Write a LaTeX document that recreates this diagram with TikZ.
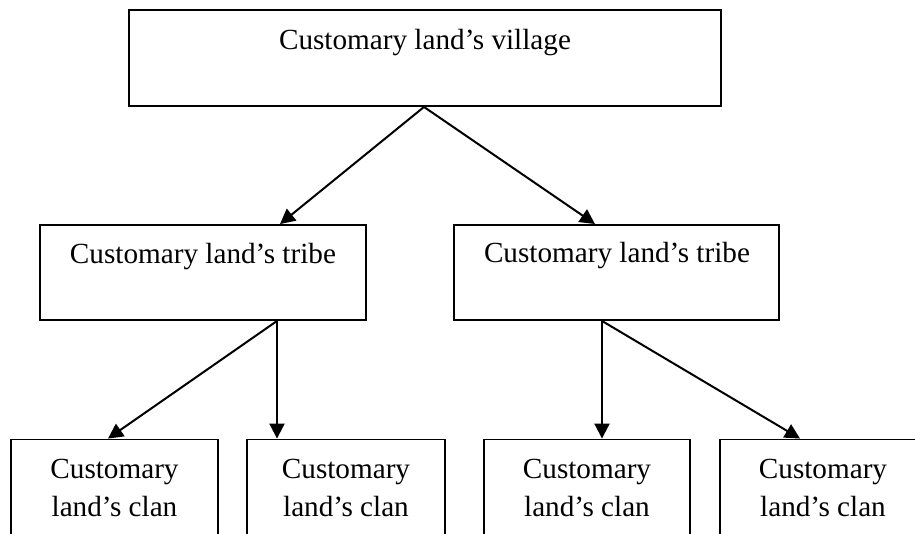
\documentclass[tikz,border=0pt]{standalone}
\usepackage{fontspec}
\setmainfont{Liberation Serif}
\usetikzlibrary{arrows.meta}
\begin{document}
\begin{tikzpicture}[x=1pt,y=-1pt,
  box/.style={draw, line width=1.9pt, inner sep=0pt},
  lbl/.style={inner sep=0pt, anchor=base, align=center, font=\fontsize{29.2}{38}\selectfont},
  arr/.style={line width=2pt, -{Triangle[length=15pt,width=15pt]}}]
\useasboundingbox (0,0) rectangle (915,533);
% boxes
\node[box, minimum width=592, minimum height=96] (v) at (425,58) {};
\node[box, minimum width=326, minimum height=95] (t1) at (203,272.5) {};
\node[box, minimum width=325, minimum height=95] (t2) at (616.5,272.5) {};
\node[box, minimum width=207, minimum height=121] (c1) at (114.5,500) {};
\node[box, minimum width=198, minimum height=121] (c2) at (346,500) {};
\node[box, minimum width=206, minimum height=121] (c3) at (587,500) {};
\node[box, minimum width=206, minimum height=121] (c4) at (823,500) {};
% texts
\node[lbl] (vt) at (425,49) {Customary land’s village};
\node[lbl] (t1t) at (203,263) {Customary land’s tribe};
\node[lbl] (t2t) at (617,262) {Customary land’s tribe};
\node[lbl] (c1t) at (114.5,516) {Customary\\land’s clan};
\node[lbl] (c2t) at (346,516) {Customary\\land’s clan};
\node[lbl] (c3t) at (587,516) {Customary\\land’s clan};
\node[lbl] (c4t) at (823,516) {Customary\\land’s clan};
% connectors
\draw[arr] ([xshift=-1]v.south) -- ([xshift=77]t1.north);
\draw[arr] ([xshift=-1]v.south) -- ([xshift=-21.5]t2.north);
\draw[arr] ([xshift=74]t1.south) -- ([xshift=-6.5]c1.north);
\draw[arr] ([xshift=74]t1.south) -- ([xshift=-69]c2.north);
\draw[arr] ([xshift=-14.5]t2.south) -- ([xshift=15]c3.north);
\draw[arr] ([xshift=-14.5]t2.south) -- ([xshift=-23]c4.north);
\end{tikzpicture}
\end{document}
